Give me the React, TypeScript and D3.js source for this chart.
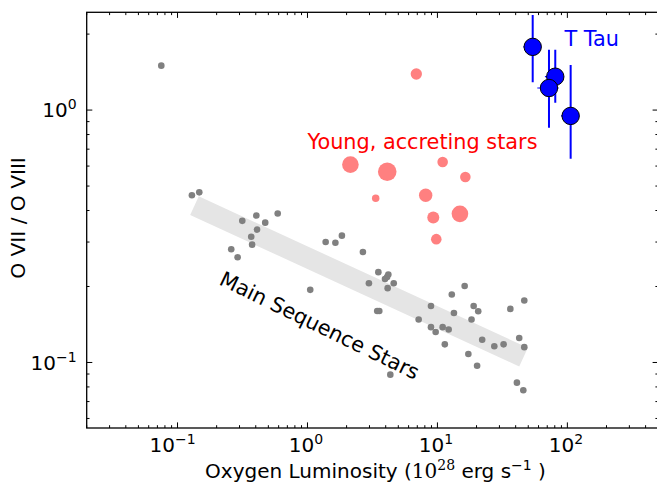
import React from "react";
import { line, scaleLog, scaleSqrt } from "d3";

const WIDTH = 657;
const HEIGHT = 485;
const PLOT_LEFT = 86.7;
const PLOT_RIGHT = 658.2;
const PLOT_TOP = 12.3;
const PLOT_BOTTOM = 428;
const FONT = "'DejaVu Sans', sans-serif";
const MATH_FONT = "'DejaVu Serif', serif";
const LABEL_SIZE = 20.8;
const AXIS_LABEL_SIZE = 20.2;
const TICK_SIZE = 20;
const MAJOR_TICK = 5.6;
const MINOR_TICK = 2.8;

const X_DOMAIN: [number, number] = [0.02, 500];
const Y_DOMAIN: [number, number] = [0.055, 2.44];

// main sequence stars (grey dots)
const msLum = [
    0.075, 0.129, 0.147, 0.315, 0.404, 0.473, 0.59, 0.409, 0.369, 0.375, 0.259, 0.29,
    1.38, 1.64, 1.84, 1.05, 2.67, 3.51, 4.19, 3.95, 4.1, 2.97, 4.61, 4.14, 3.44, 3.57,
    4.34, 7.17, 8.92, 8.92, 9.69, 10.97, 12.2, 11.4, 12.9, 13.4, 16.2, 18.3, 19.0, 20.6,
    17.3, 20.2, 22.1, 27.4, 32.3, 36.4, 46.6, 42.6, 46.6, 40.9, 45.8,
];
const msRatio = [
    1.5, 0.46, 0.472, 0.364, 0.382, 0.358, 0.389, 0.336, 0.315, 0.293, 0.281, 0.261,
    0.3, 0.298, 0.318, 0.194, 0.274, 0.228, 0.223, 0.214, 0.218, 0.206, 0.206, 0.197, 0.16, 0.16,
    0.0895, 0.148, 0.1675, 0.138, 0.132, 0.138, 0.135, 0.118, 0.186, 0.157, 0.201, 0.148, 0.1675, 0.1595,
    0.108, 0.0971, 0.123, 0.116, 0.118, 0.163, 0.176, 0.125, 0.115, 0.0832, 0.0776,
];

// young, accreting stars (marker area ~ s)
const cttsLum = [6.88, 2.14, 4.11, 10.97, 16.4, 3.35, 8.12, 14.9, 9.29, 9.8];
const cttsRatio = [1.39, 0.608, 0.57, 0.623, 0.543, 0.447, 0.46, 0.388, 0.375, 0.308];
const cttsS = [32, 69, 86, 28, 28, 14, 45, 69, 36, 28];

// T Tau
const tTauLum = [54.1, 80.7, 72.2, 106];
const tTauRatio = [1.78, 1.356, 1.223, 0.948];
const tTauRatioLow = [1.289, 1.07, 0.852, 0.642];
const tTauRatioHigh = [2.38, 1.732, 1.732, 1.51];
const tTauLumLow = [45.8, 67.2, 58.7, 89.3];
const tTauLumHigh = [62.4, 94.2, 85.7, 122.7];

// main sequence trend band
const bandLum = [0.135, 46];
const bandRatio = [0.418, 0.105];

const xTickValues = [0.1, 1, 10, 100];
const xTickExponents = ["\u22121", "0", "1", "2"];
const yTickValues = [0.1, 1];
const yTickExponents = ["\u22121", "0"];

const x = scaleLog().domain(X_DOMAIN).range([PLOT_LEFT, PLOT_RIGHT]);
const y = scaleLog().domain(Y_DOMAIN).range([PLOT_BOTTOM, PLOT_TOP]);
const r = scaleSqrt().domain([0, 100]).range([0, 10]);

const isMajor = (v: number) => Math.abs(Math.log10(v) - Math.round(Math.log10(v))) < 1e-9;

const App = () => {
    const bandPath = line<number>()
        .x((_, i) => x(bandLum[i]))
        .y(d => y(d))(bandRatio);

    const xTicks = x.ticks();
    const yTicks = y.ticks();

    return (
        <svg
            width={WIDTH}
            height={HEIGHT}
            style={{ position: "absolute", left: 0, top: 0, background: "#fff" }}
            fontFamily={FONT}
        >
            <defs>
                <clipPath id="plot">
                    <rect x={PLOT_LEFT} y={PLOT_TOP} width={PLOT_RIGHT - PLOT_LEFT} height={PLOT_BOTTOM - PLOT_TOP} />
                </clipPath>
            </defs>
            <rect width={WIDTH} height={HEIGHT} fill="#fff" />

            <g clipPath="url(#plot)">
                <path d={bandPath || ""} stroke="#e5e5e5" strokeWidth={20.6} fill="none" strokeLinecap="butt" />
                {msLum.map((l, i) => (
                    <circle key={`ms${i}`} cx={x(l)} cy={y(msRatio[i])} r={3.3} fill="#808080" />
                ))}
                {cttsLum.map((l, i) => (
                    <circle key={`ct${i}`} cx={x(l)} cy={y(cttsRatio[i])} r={r(cttsS[i])} fill="#ff8080" />
                ))}
                {tTauLum.map((l, i) => (
                    <g key={`tt${i}`} stroke="#0000ff" strokeWidth={2}>
                        <line x1={x(l)} x2={x(l)} y1={y(tTauRatioLow[i])} y2={y(tTauRatioHigh[i])} />
                        <line x1={x(tTauLumLow[i])} x2={x(tTauLumHigh[i])} y1={y(tTauRatio[i])} y2={y(tTauRatio[i])} strokeWidth={1.2} />
                    </g>
                ))}
                {tTauLum.map((l, i) => (
                    <circle key={`tp${i}`} cx={x(l)} cy={y(tTauRatio[i])} r={8.7} fill="#0000ff" stroke="#000" strokeWidth={1} />
                ))}
            </g>

            <text x={x(1)} y={y(0.7)} fill="#ff0000" fontSize={LABEL_SIZE}>
                Young, accreting stars
            </text>
            <text x={x(95)} y={y(1.8)} fill="#0000ff" fontSize={LABEL_SIZE}>
                T Tau
            </text>
            <text
                x={x(0.205)}
                y={y(0.2046)}
                fill="#000"
                fontSize={LABEL_SIZE}
                transform={`rotate(26, ${x(0.205)}, ${y(0.2046)})`}
            >
                Main Sequence Stars
            </text>

            {/* ticks, all four sides, pointing in */}
            <g stroke="#000" strokeWidth={1}>
                {xTicks.map((t, i) => {
                    const len = isMajor(t) ? MAJOR_TICK : MINOR_TICK;
                    const px = x(t);
                    return (
                        <g key={`xt${i}`}>
                            <line x1={px} x2={px} y1={PLOT_BOTTOM} y2={PLOT_BOTTOM - len} />
                            <line x1={px} x2={px} y1={PLOT_TOP} y2={PLOT_TOP + len} />
                        </g>
                    );
                })}
                {yTicks.map((t, i) => {
                    const len = isMajor(t) ? MAJOR_TICK : MINOR_TICK;
                    const py = y(t);
                    return (
                        <g key={`yt${i}`}>
                            <line x1={PLOT_LEFT} x2={PLOT_LEFT + len} y1={py} y2={py} />
                            <line x1={PLOT_RIGHT} x2={PLOT_RIGHT - len} y1={py} y2={py} />
                        </g>
                    );
                })}
            </g>
            <rect
                x={PLOT_LEFT}
                y={PLOT_TOP}
                width={PLOT_RIGHT - PLOT_LEFT}
                height={PLOT_BOTTOM - PLOT_TOP}
                fill="none"
                stroke="#000"
                strokeWidth={1.3}
            />

            {xTickValues.map((t, i) => (
                <text
                    key={`xl${i}`}
                    x={x(t) - (xTickExponents[i].startsWith("\u2212") ? 5 : 1.5)}
                    y={PLOT_BOTTOM + 24}
                    textAnchor="middle"
                    fontSize={TICK_SIZE}
                >
                    <tspan>10</tspan>
                    <tspan dy={-8} fontSize={TICK_SIZE * 0.7}>
                        {xTickExponents[i]}
                    </tspan>
                </text>
            ))}
            {yTickValues.map((t, i) => (
                <text key={`yl${i}`} x={PLOT_LEFT - 10} y={y(t) + 7.3} textAnchor="end" fontSize={TICK_SIZE}>
                    <tspan>10</tspan>
                    <tspan dy={-8} fontSize={TICK_SIZE * 0.7}>
                        {yTickExponents[i]}
                    </tspan>
                </text>
            ))}

            <text x={375.5} y={478} textAnchor="middle" fontSize={20}>
                <tspan>Oxygen Luminosity (</tspan>
                <tspan fontFamily={MATH_FONT}>10</tspan>
                <tspan fontFamily={MATH_FONT} dy={-8} fontSize={14}>
                    28
                </tspan>
                <tspan dy={8}>{"\u00a0erg s"}</tspan>
                <tspan dy={-8} fontSize={14}>
                    {"\u22121"}
                </tspan>
                <tspan dy={8}>{"\u00a0)"}</tspan>
            </text>
            <text
                x={25}
                y={218}
                textAnchor="middle"
                fontSize={AXIS_LABEL_SIZE}
                transform="rotate(-90, 25, 218)"
            >
                O VII / O VIII
            </text>
        </svg>
    );
};

export default App;
